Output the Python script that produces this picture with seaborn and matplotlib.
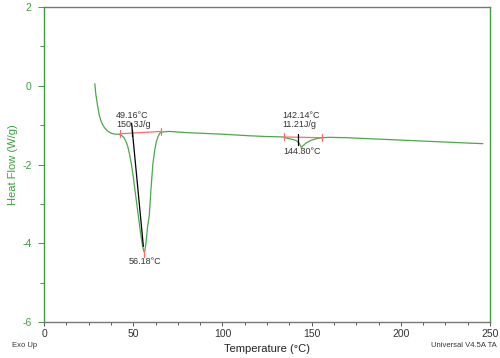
import pandas as pd
import matplotlib.pyplot as plt
import seaborn as sns
from matplotlib.ticker import MultipleLocator

# DSC curve
temp = [28.5, 29, 30, 31, 32, 33, 34, 35, 36, 37, 38, 39, 40, 41, 42, 43, 44, 45, 46,
        47, 48, 49, 50, 51, 52, 53, 54, 55, 55.5, 56, 56.2, 56.5, 57, 57.5, 58, 59, 60,
        61, 62, 63, 64, 65, 66, 67, 70, 80, 100, 115, 125, 134, 136, 138, 140, 142,
        143, 144, 144.3, 145, 147, 150, 153, 156, 160, 170, 180, 200, 220, 240, 246]
heat_flow = [0.05, -0.2, -0.5, -0.75, -0.9, -1.0, -1.07, -1.12, -1.16, -1.19, -1.21,
             -1.22, -1.23, -1.23, -1.23, -1.25, -1.28, -1.33, -1.42, -1.55, -1.75, -2.0,
             -2.3, -2.65, -3.0, -3.35, -3.7, -4.0, -4.12, -4.2, -4.22, -4.2, -4.05, -3.85,
             -3.6, -3.3, -2.6, -2.0, -1.65, -1.42, -1.28, -1.2, -1.18, -1.17, -1.16, -1.19,
             -1.23, -1.27, -1.29, -1.30, -1.33, -1.35, -1.37, -1.41, -1.46, -1.54, -1.57,
             -1.53, -1.45, -1.38, -1.34, -1.32, -1.31, -1.32, -1.34, -1.38, -1.42, -1.46,
             -1.47]

# analysis marks
base1_t = [42.6, 65.5]
base1_hf = [-1.22, -1.16]
onset1_t = [49.1, 55.7]
onset1_hf = [-0.95, -4.08]
peak1 = (56.18, -4.22)
base2_t = [134.5, 156.0]
base2_hf = [-1.30, -1.32]
onset2 = (142.6, -1.22, -1.5)
peak2 = (144.3, -1.57)

df = pd.DataFrame({"Temperature": temp, "HeatFlow": heat_flow})

sns.set_style("white")
plt.rcParams["font.family"] = ["Liberation Sans", "DejaVu Sans"]
plt.rcParams["axes.unicode_minus"] = False

green = "#3e9e3e"
red = "#ff6b6b"

fig = plt.figure(figsize=(5, 3.58), dpi=100)
ax = fig.add_axes([0.088, 0.1006, 0.892, 0.8798])

sns.lineplot(data=df, x="Temperature", y="HeatFlow", ax=ax, color="#4aa84a",
             linewidth=0.9, sort=False)

# baselines and onset marks
ax.plot(base1_t, base1_hf, color=red, lw=0.9)
ax.plot(base2_t, base2_hf, color=red, lw=0.9)
for t, h in zip(base1_t + base2_t, base1_hf + base2_hf):
    ax.plot([t, t], [h - 0.09, h + 0.09], color=red, lw=0.9)
ax.plot(onset1_t, onset1_hf, color="black", lw=0.9)
ax.plot([onset1_t[0], onset1_t[0]], [base1_hf[0] - 0.05, base1_hf[0] + 0.09],
        color="black", lw=0.9)
ax.plot([onset2[0], onset2[0]], [onset2[1], onset2[2]], color="black", lw=0.9)
ax.plot([peak1[0], peak1[0]], [peak1[1] + 0.05, peak1[1] - 0.12], color=red, lw=0.9)
ax.plot([peak2[0], peak2[0]], [peak2[1] + 0.05, peak2[1] - 0.12], color=red, lw=0.9)

fs = 6.5
txt = "#333333"
ax.text(40.4, -0.875, "49.16°C\n150.3J/g", fontsize=fs, va="center", ha="left",
        color=txt, linespacing=1.05)
ax.text(56.8, -4.46, "56.18°C", fontsize=fs, va="center", ha="center", color=txt)
ax.text(133.6, -0.875, "142.14°C\n11.21J/g", fontsize=fs, va="center", ha="left",
        color=txt, linespacing=1.05)
ax.text(144.9, -1.68, "144.30°C", fontsize=fs, va="center", ha="center", color=txt)

ax.set_xlim(0, 250)
ax.set_ylim(-6, 2)
ax.xaxis.set_major_locator(MultipleLocator(50))
ax.xaxis.set_minor_locator(MultipleLocator(12.5))
ax.yaxis.set_major_locator(MultipleLocator(2))
ax.yaxis.set_minor_locator(MultipleLocator(1))

ax.tick_params(axis="y", which="major", length=4, width=0.7, colors=green,
               labelsize=7.5, pad=5)
ax.tick_params(axis="y", which="minor", length=3, width=0.7, colors=green)
ax.tick_params(axis="x", which="major", length=3, width=0.7, colors="#555555",
               labelsize=7.5, labelcolor="#333333", pad=2)
ax.tick_params(axis="x", which="minor", length=2, width=0.7, colors="#555555")
ax.tick_params(axis="both", which="both", direction="out", left=True, bottom=True)

for side in ["left", "right"]:
    ax.spines[side].set_color(green)
    ax.spines[side].set_linewidth(1.0)
for side in ["top", "bottom"]:
    ax.spines[side].set_color("#777777")
    ax.spines[side].set_linewidth(1.0)

ax.set_xlabel("Temperature (°C)", fontsize=8, color="#222222", labelpad=4)
ax.set_ylabel("Heat Flow (W/g)", fontsize=8, color=green, labelpad=3)

fig.text(0.024, 0.036, "Exo Up", fontsize=5.5, color="#333333", ha="left", va="center")
fig.text(0.994, 0.036, "Universal V4.5A TA", fontsize=5.5, color="#333333",
         ha="right", va="center")

fig.savefig("out.png", dpi=100)
